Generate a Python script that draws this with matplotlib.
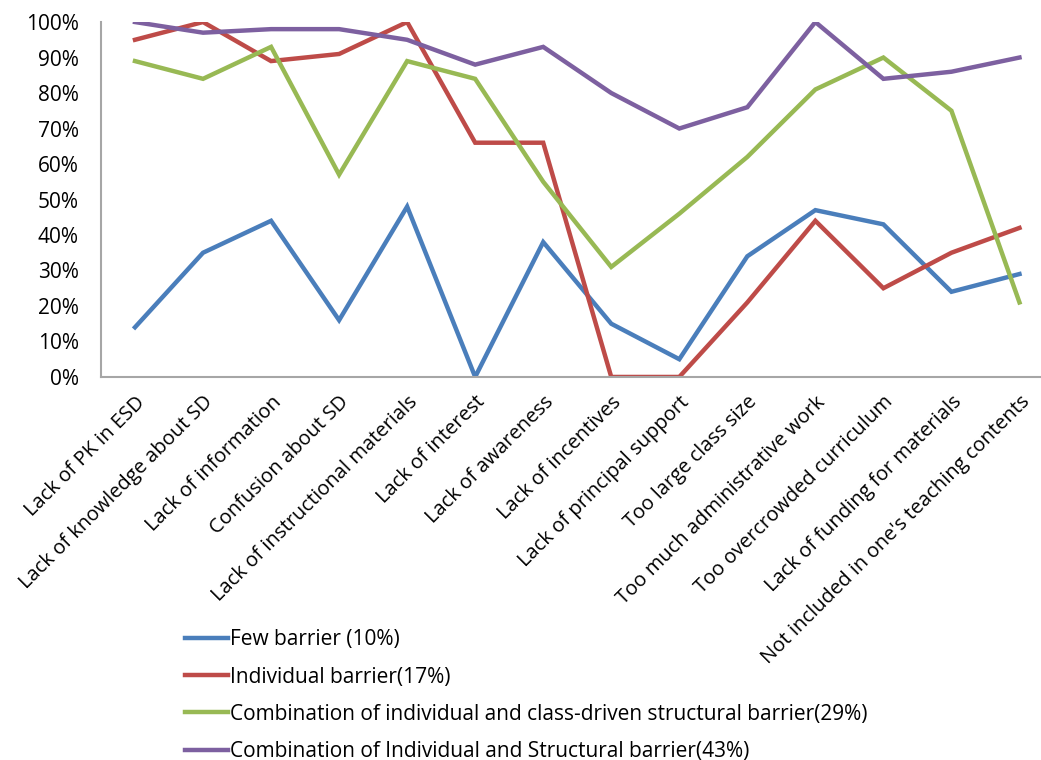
import matplotlib.pyplot as plt
from matplotlib.ticker import PercentFormatter

categories = ["Lack of PK in ESD", "Lack of knowledge about SD", "Lack of information",
              "Confusion about SD", "Lack of instructional materials", "Lack of interest",
              "Lack of awareness", "Lack of incentives", "Lack of principal support",
              "Too large class size", "Too much administrative work",
              "Too overcrowded curriculum", "Lack of funding for materials",
              "Not included in one's teaching contents"]

few = [14, 35, 44, 16, 48, 0, 38, 15, 5, 34, 47, 43, 24, 29]
individual = [95, 100, 89, 91, 100, 66, 66, 0, 0, 21, 44, 25, 35, 42]
class_driven = [89, 84, 93, 57, 89, 84, 55, 31, 46, 62, 81, 90, 75, 21]
structural = [100, 97, 98, 98, 95, 88, 93, 80, 70, 76, 100, 84, 86, 90]

labels = ["Few barrier (10%)", "Individual barrier(17%)",
          "Combination of individual and class-driven structural barrier(29%)",
          "Combination of Individual and Structural barrier(43%)"]
colors = ["#4A7EBB", "#BE4B48", "#98B954", "#7D60A0"]

plt.rcParams['font.family'] = ['Open Sans', 'DejaVu Sans']

fig = plt.figure(figsize=(10.41, 7.6), dpi=100)
ax = fig.add_axes([0.097, 0.504, 0.915, 0.467])

x = list(range(len(categories)))
for series, lab, col in zip([few, individual, class_driven, structural], labels, colors):
    ax.plot(x, series, color=col, lw=3.2, label=lab, solid_joinstyle='miter')

ax.set_xlim(-0.5, len(categories) - 0.5)
ax.set_ylim(0, 100)
ax.set_yticks(range(0, 101, 10))
ax.yaxis.set_major_formatter(PercentFormatter(decimals=0))
ax.set_xticks(x)
ax.set_xticklabels(categories, rotation=45, ha='right', rotation_mode='anchor', fontsize=14.5)
ax.tick_params(axis='y', length=0, pad=16, labelsize=15)
ax.tick_params(axis='x', length=0, pad=11)

for s in ['top', 'right']:
    ax.spines[s].set_visible(False)
for s in ['left', 'bottom']:
    ax.spines[s].set_color('#A6A6A6')
    ax.spines[s].set_linewidth(1.5)

fig.legend(loc='upper left', bbox_to_anchor=(0.17, 0.183), frameon=False,
           fontsize=15, handlelength=2.05, handletextpad=0.1, labelspacing=0.78,
           borderaxespad=0)

fig.savefig("out.png", dpi=100)
